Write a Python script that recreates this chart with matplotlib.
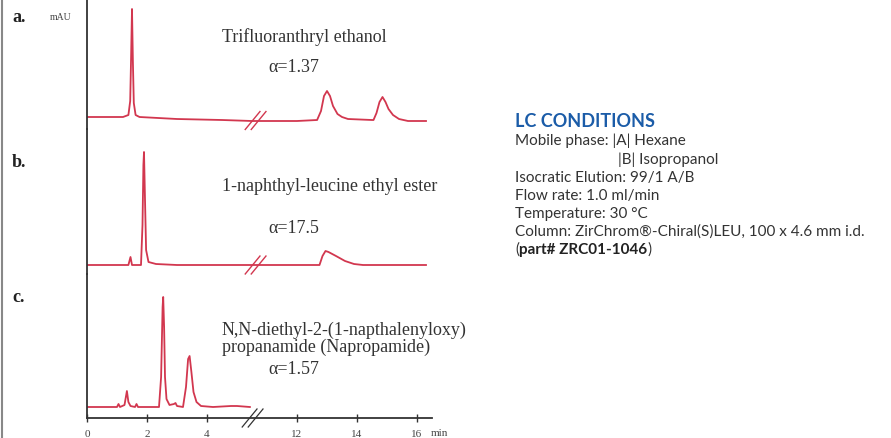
# -*- coding: utf-8 -*-
"""
Chiral LC chromatograms (ZirChrom-Chiral(S)LEU) with LC conditions panel
"""

import matplotlib.pyplot as plt
from matplotlib.lines import Line2D

# ---- data (time in min, signal in arbitrary mAU) ----
# a. Trifluoranthryl ethanol
time_a = [0, 1.2, 1.38, 1.44, 1.47, 1.5, 1.53, 1.56, 1.62, 1.75, 3.0, 4.5, 5.5,
          10.6, 12.0, 12.67, 12.8, 12.9, 13.0, 13.1, 13.2, 13.35, 13.5, 13.7, 14.5,
          14.55, 14.65, 14.75, 14.85, 14.95, 15.05, 15.2, 15.4, 15.7, 16.3]
sig_a = [0, 0, 2, 16, 60, 108, 55, 14, 2, 0, -2, -3, -4,
         -4, -4, -3, 6, 21, 26, 21, 11, 3, 0, -2, -3,
         -3, 4, 15, 20, 15, 8, 2, -2, -4, -4]

# b. 1-naphthyl-leucine ethyl ester
time_b = [0, 1.38, 1.45, 1.5, 1.8, 1.85, 1.88, 1.9, 1.93, 1.97, 2.05, 2.3, 3.0, 5.5,
          10.6, 12.75, 12.85, 12.95, 13.05, 13.3, 13.6, 13.9, 14.2, 16.3]
sig_b = [0, 0, 8, 0, 0, 40, 100, 113, 70, 15, 3, 1, 0, 0,
         0, 0, 9, 14, 13, 9, 4, 1, 0, 0]

# c. N,N-diethyl-2-(1-napthalenyloxy) propanamide
time_c = [0, 1.0, 1.05, 1.1, 1.25, 1.33, 1.38, 1.45, 1.6, 1.65, 1.7, 2.4, 2.47,
          2.52, 2.54, 2.57, 2.6, 2.65, 2.75, 2.9, 2.95, 3.0, 3.2, 3.3, 3.37, 3.42,
          3.48, 3.55, 3.65, 3.8, 4.2, 4.8, 5.0, 5.43]
sig_c = [0, 0, 3, 0, 2, 16, 5, 1, 0, 3, 0, 0, 30,
         100, 110, 80, 30, 8, 2, 3, 4, 1, 0, 20, 48, 51,
         35, 15, 5, 1, 0, 1, 1, 0]

tick_times = [0, 2, 4, 12, 14, 16]

names = ["Trifluoranthryl ethanol", "1-naphthyl-leucine ethyl ester",
         "N,N-diethyl-2-(1-napthalenyloxy)\npropanamide (Napropamide)"]
alphas = ["\u03b1=1.37", "\u03b1=17.5", "\u03b1=1.57"]
panel_labels = ["a.", "b.", "c."]

lc_title = "LC CONDITIONS"
lc_lines = ["Mobile phase: |A| Hexane",
            "|B| Isopropanol",
            "Isocratic Elution: 99/1 A/B",
            "Flow rate: 1.0 ml/min",
            "Temperature: 30 \u00b0C",
            "Column: ZirChrom\u00ae-Chiral(S)LEU, 100 x 4.6 mm i.d."]

RED = "#d2374f"
INK = "#333333"
BLUE = "#1b5ca8"
GAP = 5.0        # minutes cut out of the time axis
BREAK_U = 5.62   # where the // marks sit (display units)


def brk(t):
    # squeeze the empty 5.5 - 10.5 min region out of the axis
    return [v if v < 8 else v - GAP for v in t]


W, H = 891, 439
fig = plt.figure(figsize=(W / 100, H / 100), dpi=100)


def px_axes(left, top, right, bottom):
    return fig.add_axes([left / W, 1 - bottom / H, (right - left) / W, (bottom - top) / H])


def fx(x):
    return x / W


def fy(y):
    return 1 - y / H


def break_marks(ax, u, y, color, lw=1.0):
    for off in (-0.1, 0.1):
        ax.plot([u + off - 0.26, u + off + 0.26], [y - 9.5, y + 9.5],
                color=color, lw=lw, clip_on=False, solid_capstyle='butt')


ax_a = px_axes(87, 0, 432, 130)
ax_b = px_axes(87, 130, 432, 275)
ax_c = px_axes(87, 275, 432, 419)
axes = [ax_a, ax_b, ax_c]
ylims = [(-12, 118), (-9, 136), (-11, 133)]

for ax, yl in zip(axes, ylims):
    ax.set_xlim(0, 11.5)
    ax.set_ylim(*yl)
    for s in ['top', 'right', 'bottom']:
        ax.spines[s].set_visible(False)
    ax.spines['left'].set_color(INK)
    ax.spines['left'].set_linewidth(1.3)
    ax.set_yticks([])
    ax.set_xticks([])
    ax.patch.set_alpha(0)

ax_a.plot(brk(time_a), sig_a, color=RED, lw=1.3)
ax_b.plot(brk(time_b), sig_b, color=RED, lw=1.3)
ax_c.plot(brk(time_c), sig_c, color=RED, lw=1.3)

break_marks(ax_a, BREAK_U, -3.5, RED)
break_marks(ax_b, BREAK_U, 0, RED)

# bottom time axis
ax_c.spines['bottom'].set_visible(True)
ax_c.spines['bottom'].set_color(INK)
ax_c.spines['bottom'].set_linewidth(1.3)
ax_c.set_xticks(brk(tick_times))
ax_c.set_xticklabels([str(t) for t in tick_times])
ax_c.tick_params(axis='x', direction='inout', length=6, width=1.0, color=INK,
                 pad=5, labelsize=8, labelcolor='#444444')
for lab in ax_c.get_xticklabels():
    lab.set_family('Liberation Serif')
break_marks(ax_c, BREAK_U - 0.1, -11, INK, lw=0.9)
fig.text(fx(431), fy(434), "min", fontsize=8, family='Liberation Serif',
         color='#444444', va='center', ha='left')

# panel letters and compound names
serif = 'Liberation Serif'
for lab, y in zip(panel_labels, [17, 163, 298]):
    fig.text(fx(12), fy(y), lab, fontsize=13, fontweight='bold', family=serif,
             color='#222222', va='center', ha='left')
fig.text(fx(50), fy(17), "mAU", fontsize=7, family=serif, color='#444444',
         va='center', ha='left')

FS = 13
fig.text(fx(222), fy(37), names[0], fontsize=FS, family=serif, color=INK,
         va='center', ha='left')
fig.text(fx(268), fy(68), alphas[0], fontsize=FS, family=serif, color=INK,
         va='center', ha='left')
fig.text(fx(222), fy(187), names[1], fontsize=FS, family=serif, color=INK,
         va='center', ha='left')
fig.text(fx(268), fy(229), alphas[1], fontsize=FS, family=serif, color=INK,
         va='center', ha='left')
fig.text(fx(222), fy(339), names[2], fontsize=FS, family=serif, color=INK,
         va='center', ha='left', linespacing=0.95)
fig.text(fx(268), fy(370), alphas[2], fontsize=FS, family=serif, color=INK,
         va='center', ha='left')

# LC conditions block
sans = 'Lato'
BFS = 11
fig.text(fx(515), fy(122), lc_title, fontsize=13, fontweight='bold',
         family=sans, color=BLUE, va='center', ha='left')
line_y = [141, 160, 178, 196, 214, 232]
line_x = [515, 618, 515, 515, 515, 515]
for s, x, y in zip(lc_lines, line_x, line_y):
    fig.text(fx(x), fy(y), s, fontsize=BFS, family=sans, color=INK,
             va='center', ha='left')
t0 = fig.text(fx(515), fy(250), "(", fontsize=BFS, family=sans, color=INK,
              va='center', ha='left')
a1 = plt.annotate("part# ZRC01-1046", xy=(1, 0.5), xycoords=t0, va='center',
                  ha='left', fontsize=BFS, family=sans, fontweight='bold',
                  color='#222222', annotation_clip=False)
plt.annotate(")", xy=(1, 0.5), xycoords=a1, va='center', ha='left',
             fontsize=BFS, family=sans, color=INK, annotation_clip=False)

# page edge at far left
fig.add_artist(Line2D([fx(2), fx(2)], [0, 1], color='#888888', lw=1.5))

plt.savefig("out.png", dpi=100)
